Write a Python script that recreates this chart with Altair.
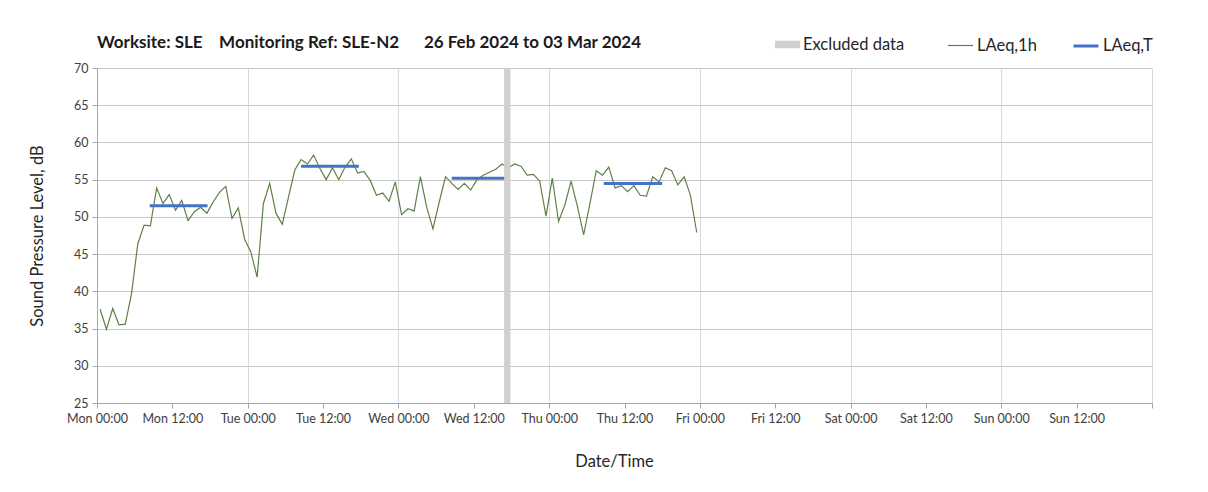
import altair as alt
import pandas as pd

# ---------------- data ----------------
START = "2024-02-26T00:30:00"  # first hourly LAeq,1h point
laeq_1h = [
    37.6, 34.9, 37.7, 35.5, 35.6, 39.7, 46.4, 48.9, 48.8, 53.9, 51.8, 53.0,
    50.9, 52.2, 49.5, 50.7, 51.3, 50.5, 52.0, 53.3, 54.1, 49.8, 51.2, 47.0,
    45.3, 41.9, 51.8, 54.5, 50.5, 49.0, 52.7, 56.3, 57.7, 57.1, 58.3, 56.5,
    55.0, 56.6, 55.0, 56.7, 57.8, 55.9, 56.1, 54.9, 52.9, 53.2, 52.1, 54.7,
    50.3, 51.1, 50.8, 55.4, 51.3, 48.4, 52.0, 55.4, 54.5, 53.7, 54.5, 53.6,
    55.0, 55.6, 56.0, 56.4, 57.1, 56.6, 57.1, 56.8, 55.6, 55.7, 54.8, 50.1,
    55.2, 49.4, 51.6, 54.8, 51.4, 47.6, 51.8, 56.2, 55.6, 56.7, 53.9, 54.2,
    53.4, 54.2, 52.9, 52.8, 55.4, 54.7, 56.6, 56.2, 54.3, 55.4, 52.9, 47.9,
]

laeq_t_start = ["2024-02-26T08:24:00", "2024-02-27T08:30:00",
                "2024-02-28T08:30:00", "2024-02-29T08:42:00"]
laeq_t_end = ["2024-02-26T17:36:00", "2024-02-27T17:42:00",
              "2024-02-28T17:40:00", "2024-02-29T18:00:00"]
laeq_t_value = [51.5, 56.8, 55.2, 54.5]

excluded_start = ["2024-02-28T16:50:00"]
excluded_end = ["2024-02-28T17:50:00"]

series_names = ["Excluded data", "LAeq,1h", "LAeq,T"]
series_colors = ["#d0d0d0", "#5f8048", "#4472c4"]

title_text = ("Worksite: SLE\u00a0\u00a0\u00a0 Monitoring Ref: SLE-N2"
              "\u00a0\u00a0\u00a0\u00a0\u00a0 26 Feb 2024 to 03 Mar 2024")

y_domain = [25, 70]
y_ticks = [25, 30, 35, 40, 45, 50, 55, 60, 65, 70]

# ---------------- tables ----------------
times = pd.date_range(START, periods=len(laeq_1h), freq="h").strftime("%Y-%m-%dT%H:%M:%S")
line_df = pd.DataFrame({"time": list(times), "value": laeq_1h, "series": series_names[1]})
seg_df = pd.DataFrame({"start": laeq_t_start, "end": laeq_t_end,
                       "value": laeq_t_value, "series": series_names[2]})
band_df = pd.DataFrame({"start": excluded_start, "end": excluded_end,
                        "series": series_names[0]})

tick_times = pd.date_range("2024-02-26", periods=15, freq="12h")
x_tick_values = [alt.DateTime(year=t.year, month=t.month, date=t.day, hours=t.hour)
                 for t in tick_times]

FONT = "Lato"

x_scale = alt.Scale(domain=[alt.DateTime(year=2024, month=2, date=26),
                            alt.DateTime(year=2024, month=3, date=4)], nice=False)
y_scale = alt.Scale(domain=y_domain, nice=False, zero=False)

x_axis = alt.Axis(
    values=x_tick_values,
    labelExpr="datum.index == 1 ? '' : timeFormat(datum.value, '%a %H:%M')",
    title="Date/Time", titleX=517, titlePadding=29,
    grid=True, gridColor="#d9d9d9",
    gridOpacity={"condition": {"test": "hours(datum.value) == 12", "value": 0}, "value": 1},
    domainColor="#a6a6a6", tickColor="#a6a6a6", tickSize=5,
    labelPadding=4, labelFontSize=12.5, labelColor="#404040", labelFlush=False,
    labelOverlap=False,
    titleFontSize=16.5, titleFontWeight="normal", titleColor="#262626",
)
y_axis = alt.Axis(
    values=y_ticks, tickCount=10, labelOverlap=False,
    title="Sound Pressure Level, dB", titlePadding=28,
    grid=True, gridColor="#c6c6c6",
    domainColor="#a6a6a6", tickColor="#a6a6a6", tickSize=5,
    labelPadding=4, labelFontSize=12.5, labelColor="#404040",
    titleFontSize=16.5, titleFontWeight="normal", titleColor="#262626",
)


def make_legend(x, symbol_type, stroke_width):
    return alt.Legend(
        title=None, orient="none", direction="horizontal",
        legendX=x, legendY=-36,
        labelFontSize=16.5, labelColor="#262626", labelFont=FONT,
        labelOffset=3, symbolType=symbol_type, symbolSize=625,
        symbolStrokeWidth=stroke_width, symbolOpacity=1,
    )


band_color = alt.Color(
    "series:N",
    scale=alt.Scale(domain=[series_names[0]], range=[series_colors[0]]),
    legend=make_legend(678, "M-1,-0.3H1V0.3H-1Z", 0),
)
line_color = alt.Color(
    "series:N",
    scale=alt.Scale(domain=[series_names[1]], range=[series_colors[1]]),
    legend=make_legend(850, "stroke", 1.2),
)
rule_color = alt.Color(
    "series:N",
    scale=alt.Scale(domain=[series_names[2]], range=[series_colors[2]]),
    legend=make_legend(975, "stroke", 3),
)

line = alt.Chart(line_df).mark_line(strokeWidth=1.2).encode(
    x=alt.X("time:T", scale=x_scale, axis=x_axis),
    y=alt.Y("value:Q", scale=y_scale, axis=y_axis),
    color=line_color,
)
rule = alt.Chart(seg_df).mark_rule(strokeWidth=3).encode(
    x=alt.X("start:T", scale=x_scale, axis=x_axis), x2="end:T",
    y=alt.Y("value:Q", scale=y_scale, axis=y_axis), color=rule_color,
)
band = alt.Chart(band_df).mark_rect(opacity=1).encode(
    x=alt.X("start:T", scale=x_scale, axis=x_axis), x2="end:T", color=band_color,
)

chart = alt.layer(line, rule, band).resolve_scale(color="independent").properties(
    width=1055, height=335,
    title=alt.TitleParams(title_text, anchor="start", frame="group", fontSize=17,
                          font=FONT, fontWeight="bold", color="#1a1a1a", offset=-20),
    autosize=alt.AutoSizeParams(type="none"),
    padding={"left": 89, "top": 60, "right": 40, "bottom": 80},
).configure(font=FONT).configure_view(stroke=None).configure_axis(
    labelFont=FONT, titleFont=FONT
)

chart.save("out.html", embed_options={"renderer": "svg", "actions": False})
